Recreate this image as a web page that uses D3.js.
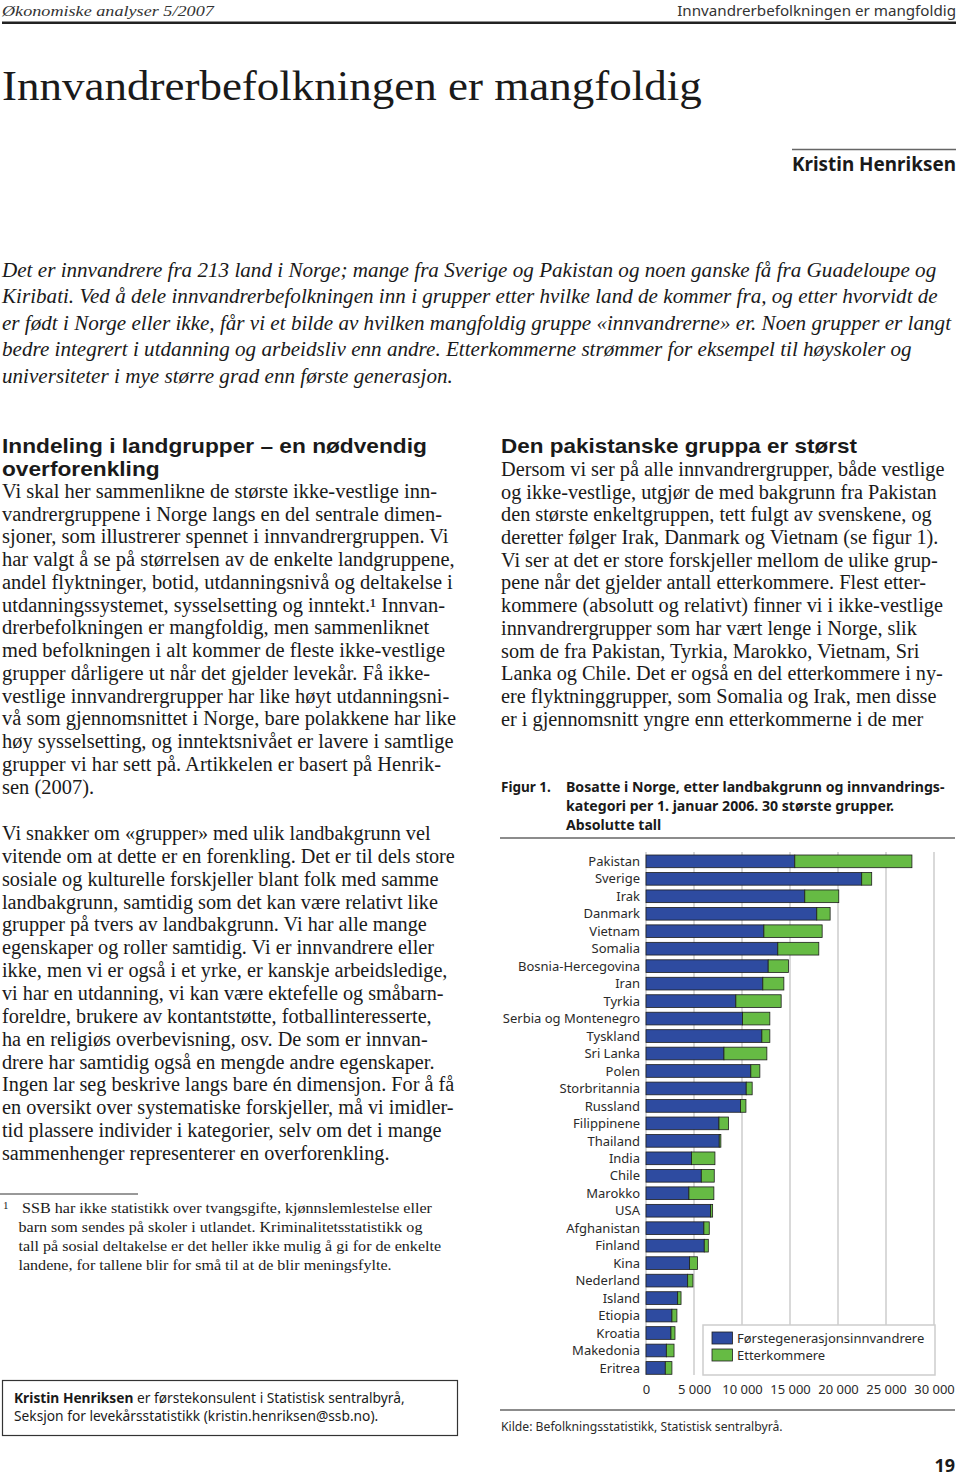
<!DOCTYPE html>
<html><head><meta charset="utf-8">
<script src="https://cdn.jsdelivr.net/npm/d3@7"></script>
<style>body{margin:0;background:#fff}svg{display:block}</style>
</head><body>
<script>
// ---------- DATA ----------
const categories = ["Pakistan","Sverige","Irak","Danmark","Vietnam","Somalia","Bosnia-Hercegovina","Iran","Tyrkia","Serbia og Montenegro","Tyskland","Sri Lanka","Polen","Storbritannia","Russland","Filippinene","Thailand","India","Chile","Marokko","USA","Afghanistan","Finland","Kina","Nederland","Island","Etiopia","Kroatia","Makedonia","Eritrea"];
const firstGen = [15500,22470,16540,17790,12280,13730,12730,12170,9360,10060,12070,8120,10920,10440,9850,7600,7630,4750,5760,4470,6730,6030,6070,4540,4340,3300,2700,2600,2120,2010];
const descendants = [12200,1040,3540,1390,6070,4270,2110,2190,4720,2840,830,4470,940,620,560,1000,170,2430,1350,2600,210,560,420,830,550,350,520,420,800,690];
const xTicks = [0,5000,10000,15000,20000,25000,30000];
const seriesNames = ["Førstegenerasjonsinnvandrere","Etterkommere"];
const seriesColors = ["#2e4ba0","#66bb44"];

// ---------- TEXT ----------
const introLines = [
 "Det er innvandrere fra 213 land i Norge; mange fra Sverige og Pakistan og noen ganske få fra Guadeloupe og",
 "Kiribati. Ved å dele innvandrerbefolkningen inn i grupper etter hvilke land de kommer fra, og etter hvorvidt de",
 "er født i Norge eller ikke, får vi et bilde av hvilken mangfoldig gruppe «innvandrerne» er. Noen grupper er langt",
 "bedre integrert i utdanning og arbeidsliv enn andre. Etterkommerne strømmer for eksempel til høyskoler og",
 "universiteter i mye større grad enn første generasjon."
];
const leftHeading = ["Inndeling i landgrupper – en nødvendig","overforenkling"];
const leftPara1 = [
 "Vi skal her sammenlikne de største ikke-vestlige inn-",
 "vandrergruppene i Norge langs en del sentrale dimen-",
 "sjoner, som illustrerer spennet i innvandrergruppen. Vi",
 "har valgt å se på størrelsen av de enkelte landgruppene,",
 "andel flyktninger, botid, utdanningsnivå og deltakelse i",
 "utdanningssystemet, sysselsetting og inntekt.¹ Innvan-",
 "drerbefolkningen er mangfoldig, men sammenliknet",
 "med befolkningen i alt kommer de fleste ikke-vestlige",
 "grupper dårligere ut når det gjelder levekår. Få ikke-",
 "vestlige innvandrergrupper har like høyt utdanningsni-",
 "vå som gjennomsnittet i Norge, bare polakkene har like",
 "høy sysselsetting, og inntektsnivået er lavere i samtlige",
 "grupper vi har sett på. Artikkelen er basert på Henrik-",
 "sen (2007)."
];
const leftPara2 = [
 "Vi snakker om «grupper» med ulik landbakgrunn vel",
 "vitende om at dette er en forenkling. Det er til dels store",
 "sosiale og kulturelle forskjeller blant folk med samme",
 "landbakgrunn, samtidig som det kan være relativt like",
 "grupper på tvers av landbakgrunn. Vi har alle mange",
 "egenskaper og roller samtidig. Vi er innvandrere eller",
 "ikke, men vi er også i et yrke, er kanskje arbeidsledige,",
 "vi har en utdanning, vi kan være ektefelle og småbarn-",
 "foreldre, brukere av kontantstøtte, fotballinteresserte,",
 "ha en religiøs overbevisning, osv. De som er innvan-",
 "drere har samtidig også en mengde andre egenskaper.",
 "Ingen lar seg beskrive langs bare én dimensjon. For å få",
 "en oversikt over systematiske forskjeller, må vi imidler-",
 "tid plassere individer i kategorier, selv om det i mange",
 "sammenhenger representerer en overforenkling."
];
const footLines = [
 "SSB har ikke statistikk over tvangsgifte, kjønnslemlestelse eller",
 "barn som sendes på skoler i utlandet. Kriminalitetsstatistikk og",
 "tall på sosial deltakelse er det heller ikke mulig å gi for de enkelte",
 "landene, for tallene blir for små til at de blir meningsfylte."
];
const bioLines = [
 [{t:"Kristin Henriksen",b:true},{t:" er førstekonsulent i Statistisk sentralbyrå,"}],
 "Seksjon for levekårsstatistikk (kristin.henriksen@ssb.no)."
];
const rightHeading = ["Den pakistanske gruppa er størst"];
const rightPara = [
 "Dersom vi ser på alle innvandrergrupper, både vestlige",
 "og ikke-vestlige, utgjør de med bakgrunn fra Pakistan",
 "den største enkeltgruppen, tett fulgt av svenskene, og",
 "deretter følger Irak, Danmark og Vietnam (se figur 1).",
 "Vi ser at det er store forskjeller mellom de ulike grup-",
 "pene når det gjelder antall etterkommere. Flest etter-",
 "kommere (absolutt og relativt) finner vi i ikke-vestlige",
 "innvandrergrupper som har vært lenge i Norge, slik",
 "som de fra Pakistan, Tyrkia, Marokko, Vietnam, Sri",
 "Lanka og Chile. Det er også en del etterkommere i ny-",
 "ere flyktninggrupper, som Somalia og Irak, men disse",
 "er i gjennomsnitt yngre enn etterkommerne i de mer"
];
const captionLines = [
 "Bosatte i Norge, etter landbakgrunn og innvandrings-",
 "kategori per 1. januar 2006. 30 største grupper.",
 "Absolutte tall"
];

const SERIF = "'Liberation Serif','DejaVu Serif',serif";
const SANS = "'Noto Sans','Open Sans','DejaVu Sans',sans-serif";
const SANSH = "'Liberation Sans','Noto Sans',sans-serif";

const svg = d3.select("body").append("svg").attr("width",960).attr("height",1478);
svg.append("rect").attr("width",960).attr("height",1478).attr("fill","#fff");

function block(lines, o){
  const g = svg.append("g");
  const t = g.selectAll("text").data(lines).join("text")
    .attr("x",(d,i)=> o.xs ? o.xs[i] : o.x)
    .attr("y",(d,i)=> o.y + i*(o.dy||0))
    .attr("font-family",o.family).attr("font-size",o.size)
    .attr("font-weight",o.weight||"normal").attr("font-style",o.style||"normal")
    .attr("fill",o.fill||"#1a1a1a").attr("text-anchor",o.anchor||"start");
  t.each(function(d){
    const s = d3.select(this);
    if (Array.isArray(d)) {
      d.forEach(seg=> s.append("tspan").attr("font-weight",seg.b?"bold":null).text(seg.t));
    } else s.text(d);
  });
  if (o.target){
    const w = t.nodes()[o.calib||0].getComputedTextLength();
    const k = o.target / w;
    const ax = o.x;
    g.attr("transform",`translate(${ax},0) scale(${k},1) translate(${-ax},0)`);
  }
  return g;
}

// ---------- PAGE HEADER ----------
block(["Økonomiske analyser 5/2007"],{x:2,y:16,family:SERIF,size:15.5,style:"italic",target:212,fill:"#333"});
block(["Innvandrerbefolkningen er mangfoldig"],{x:956,y:16,family:SANS,size:15,anchor:"end",target:279,fill:"#333"});
svg.append("rect").attr("x",2).attr("y",21.5).attr("width",954).attr("height",2.5).attr("fill","#222");

block(["Innvandrerbefolkningen er mangfoldig"],{x:2,y:100,family:SERIF,size:43,target:700,fill:"#1a1a1a"});

svg.append("line").attr("x1",792).attr("x2",956).attr("y1",149.5).attr("y2",149.5).attr("stroke","#666").attr("stroke-width",1.5);
block(["Kristin Henriksen"],{x:792,y:171,family:SANS,size:19,weight:"bold",target:164});

block(introLines,{x:2,y:277,dy:26.5,family:SERIF,size:21,style:"italic",target:950,calib:2});

// ---------- LEFT COLUMN ----------
block(leftHeading,{x:2,y:453,dy:23,family:SANSH,size:21,weight:"bold",target:425});
block(leftPara1,{x:2,y:498,dy:22.75,family:SERIF,size:20,target:453,calib:3});
block(leftPara2,{x:2,y:840,dy:22.86,family:SERIF,size:20,target:453,calib:1});

svg.append("line").attr("x1",0).attr("x2",138).attr("y1",1194).attr("y2",1194).attr("stroke","#333").attr("stroke-width",1);
svg.append("text").attr("x",3).attr("y",1209).attr("font-family",SERIF).attr("font-size",11).attr("fill","#1a1a1a").text("1");
block(footLines,{x:18.5,xs:[22,18.5,18.5,18.5],y:1213,dy:19,family:SERIF,size:15.5,target:423,calib:2});

svg.append("rect").attr("x",2.5).attr("y",1380.5).attr("width",455).attr("height",55).attr("fill","none").attr("stroke","#333").attr("stroke-width",1.2);
block(bioLines,{x:14,y:1403,dy:18,family:SANS,size:14.5,target:391,calib:0});

// ---------- RIGHT COLUMN ----------
block(rightHeading,{x:501,y:453,family:SANSH,size:21,weight:"bold",target:356});
block(rightPara,{x:501,y:476,dy:22.7,family:SERIF,size:20,target:444,calib:0});

block(["Figur 1."],{x:501,y:792,family:SANS,size:13.5,weight:"bold"});
block(captionLines,{x:566,y:792,dy:19,family:SANS,size:13.5,weight:"bold",target:379,calib:0});
svg.append("line").attr("x1",500).attr("x2",955).attr("y1",838).attr("y2",838).attr("stroke","#666").attr("stroke-width",1.5);

// ---------- CHART ----------
const x = d3.scaleLinear().domain([0,30000]).range([646,934]);
const y = d3.scaleBand().domain(categories).range([855,1374.3]).paddingInner(0.273).paddingOuter(0);
const plotTop = 852, plotBottom = 1375;

svg.append("g").selectAll("line").data(xTicks).join("line")
  .attr("x1",d=>x(d)).attr("x2",d=>x(d)).attr("y1",plotTop).attr("y2",plotBottom)
  .attr("stroke","#cdcdcd").attr("stroke-width",1.5);

const rows = categories.map((c,i)=>({c, a:firstGen[i], b:descendants[i]}));
const bars = svg.append("g");
bars.selectAll("rect.a").data(rows).join("rect").attr("class","a")
  .attr("x",x(0)).attr("y",d=>y(d.c)).attr("width",d=>x(d.a)-x(0)).attr("height",y.bandwidth())
  .attr("fill",seriesColors[0]).attr("stroke","#1e1e1e").attr("stroke-width",0.8);
bars.selectAll("rect.b").data(rows).join("rect").attr("class","b")
  .attr("x",d=>x(d.a)).attr("y",d=>y(d.c)).attr("width",d=>x(d.a+d.b)-x(d.a)).attr("height",y.bandwidth())
  .attr("fill",seriesColors[1]).attr("stroke","#1e1e1e").attr("stroke-width",0.8);

svg.append("g").selectAll("text").data(categories).join("text")
  .attr("x",640).attr("y",d=>y(d)+y.bandwidth()/2).attr("dy","0.36em")
  .attr("text-anchor","end").attr("font-family",SANS).attr("font-size",13).attr("fill","#2a2a2a")
  .text(d=>d);

const nb = d3.formatLocale({decimal:",",thousands:"\u2009",grouping:[3],currency:["",""]});
const fmt = v => nb.format(",")(v).replace("\u2009"," ");
const axis = svg.append("g").attr("transform",`translate(0,${plotBottom+7})`)
  .call(d3.axisBottom(x).tickValues(xTicks).tickSize(0).tickPadding(3).tickFormat(fmt));
axis.select(".domain").remove();
axis.selectAll("text").attr("font-family",SANS).attr("font-size",13).attr("fill","#2a2a2a");

// legend
const lg = svg.append("g");
lg.append("rect").attr("x",703).attr("y",1325).attr("width",232).attr("height",50)
  .attr("fill","#fff").attr("stroke","#cdcdcd").attr("stroke-width",1.5);
seriesNames.forEach((n,i)=>{
  lg.append("rect").attr("x",712).attr("y",1332+i*17).attr("width",20.5).attr("height",12)
    .attr("fill",seriesColors[i]).attr("stroke","#1e1e1e").attr("stroke-width",0.8);
  lg.append("text").attr("x",737).attr("y",1343+i*17).attr("font-family",SANS).attr("font-size",13)
    .attr("fill","#2a2a2a").text(n);
});

svg.append("line").attr("x1",500).attr("x2",955).attr("y1",1410).attr("y2",1410).attr("stroke","#666").attr("stroke-width",1.5);
block(["Kilde: Befolkningsstatistikk, Statistisk sentralbyrå."],{x:501,y:1431,family:SANS,size:12.5,target:282,fill:"#2a2a2a"});

// page number
block(["19"],{x:955,y:1472,family:SANS,size:18,weight:"bold",anchor:"end"});
</script>
</body></html>
